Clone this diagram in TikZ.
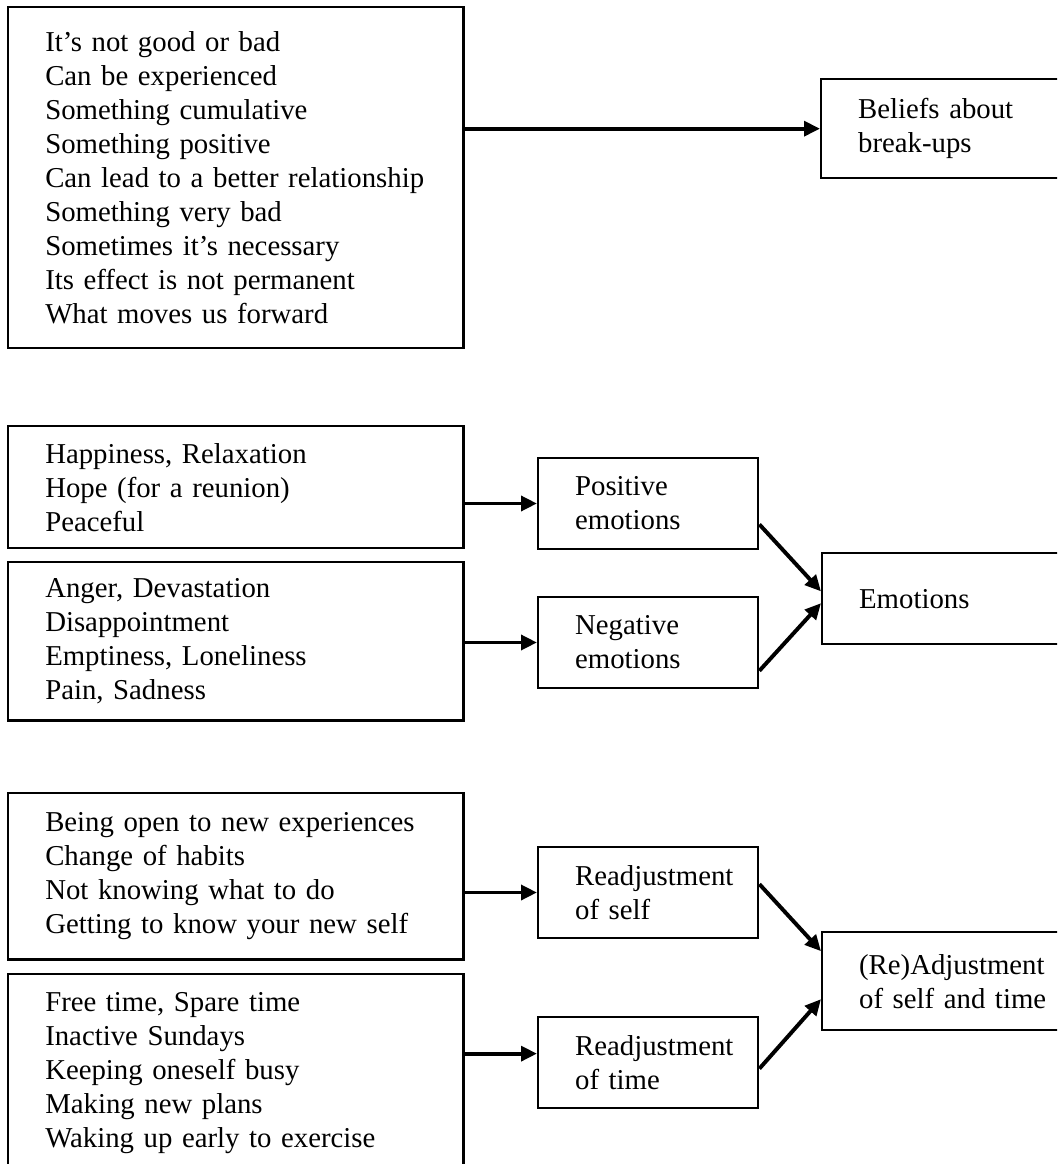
\documentclass[tikz,border=0pt]{standalone}
\usepackage{fontspec}
\setmainfont{Liberation Serif}
\usetikzlibrary{arrows.meta, positioning}

\begin{document}
\begin{tikzpicture}[
    x=0.4065pt, y=-0.4065pt,
    font=\fontsize{11.7}{13.8}\selectfont,
    box/.style={draw, line width=1pt, anchor=north west, align=left, inner ysep=0pt},
    listbox/.style={box, minimum width=185pt, text width=154.9pt, inner xsep=15pt},
    midbox/.style={box, minimum width=89.4pt, minimum height=36.8pt, text width=59.4pt, inner xsep=15pt},
    sumbox/.style={box, minimum width=122pt, text width=92pt, inner xsep=15pt},
    arr/.style={line width=1.6pt, -{Triangle[length=6.5pt, width=6pt]}},
]
\useasboundingbox (0,0) rectangle (1057,1164);
\clip (0,0) rectangle (1057,1164);
\fill[white] (0,0) rectangle (1057,1164);

% beliefs
\node[listbox, minimum height=138.6pt] (blist) at (7,6) {It’s not good or bad\\Can be experienced\\Something cumulative\\Something positive\\Can lead to a better relationship\\Something very bad\\Sometimes it’s necessary\\Its effect is not permanent\\What moves us forward};
\node[sumbox, minimum height=40.2pt] (beliefs) at (820,78) {Beliefs about\\break-ups};
\draw[arr] (blist.east |- beliefs.west) -- (beliefs.west);

% emotions
\node[listbox, minimum height=49.6pt] (happy) at (7,425) {Happiness, Relaxation\\Hope (for a reunion)\\Peaceful};
\node[listbox, minimum height=64.6pt, below=4.5pt of happy] (anger) {Anger, Devastation\\Disappointment\\Emptiness, Loneliness\\Pain, Sadness};
\node[midbox] (pos) at (537,457) {Positive\\emotions};
\node[midbox, below=18.7pt of pos] (neg) {Negative\\emotions};
\node[sumbox, minimum height=37pt] (emo) at (821,552) {Emotions};

\draw[arr] (happy.east |- pos.west) -- (pos.west);
\draw[arr] (anger.east |- neg.west) -- (neg.west);
\draw[arr] ([yshift=-8.5pt]pos.east) -- ([yshift=3pt]emo.west);
\draw[arr] ([yshift=-11.5pt]neg.east) -- ([yshift=-1.8pt]emo.west);

% self and time
\node[listbox, minimum height=67.5pt] (selfl) at (7,792) {Being open to new experiences\\Change of habits\\Not knowing what to do\\Getting to know your new self};
\node[listbox, minimum height=80.5pt, below=4.9pt of selfl] (timel) {Free time, Spare time\\Inactive Sundays\\Keeping oneself busy\\Making new plans\\Waking up early to exercise};
\node[midbox] (rself) at (537,846) {Readjustment\\of self};
\node[midbox, below=31.3pt of rself] (rtime) {Readjustment\\of time};
\node[sumbox, minimum height=39.8pt] (readj) at (821,931) {(Re)Adjustment\\of self and time};
\coordinate (tin) at ([yshift=3.6pt]rtime.west);

\draw[arr] (selfl.east |- rself.west) -- (rself.west);
\draw[arr] (timel.east |- tin) -- (tin);
\draw[arr] ([yshift=3.4pt]rself.east) -- ([yshift=12.2pt]readj.west);
\draw[arr] ([yshift=-2.5pt]rtime.east) -- ([yshift=-7.3pt]readj.west);
\end{tikzpicture}
\end{document}
